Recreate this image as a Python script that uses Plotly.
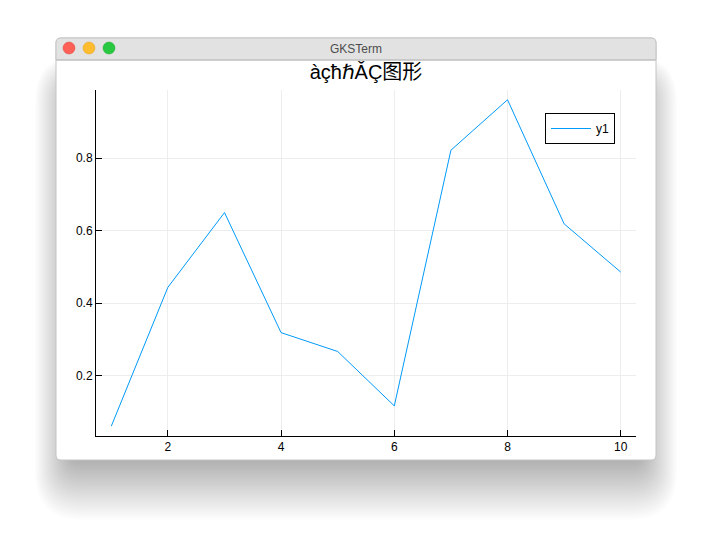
import plotly.graph_objects as go

# data
x_vals = [1, 2, 3, 4, 5, 6, 7, 8, 9, 10]
y_vals = [0.061, 0.444, 0.650, 0.319, 0.267, 0.117, 0.822, 0.961, 0.619, 0.486]
series_name = "y1"
chart_title = "àçħℏǍÇ图形"
window_title = "GKSTerm"
x_ticks = [2, 4, 6, 8, 10]
y_ticks = [0.2, 0.4, 0.6, 0.8]

# the page puts the figure 8px in from the top-left, so shrink it by that
PAGE = 8
W, H = 712 - PAGE, 534 - PAGE
L, R, T, B = 96, 636, 90, 436  # plot area in screen pixels


def px(x):
    return (x - L) / (R - L)


def py(y):
    return (B - y) / (B - T)


def rrect(x0, y0, x1, y1, r, top_only=False):
    # rounded rectangle path in paper coords (pixel inputs)
    rb = 0 if top_only else r
    pts = [
        f"M {px(x0 + r)},{py(y0)}",
        f"L {px(x1 - r)},{py(y0)}",
        f"Q {px(x1)},{py(y0)} {px(x1)},{py(y0 + r)}",
        f"L {px(x1)},{py(y1 - rb)}",
        f"Q {px(x1)},{py(y1)} {px(x1 - rb)},{py(y1)}",
        f"L {px(x0 + rb)},{py(y1)}",
        f"Q {px(x0)},{py(y1)} {px(x0)},{py(y1 - rb)}",
        f"L {px(x0)},{py(y0 + r)}",
        f"Q {px(x0)},{py(y0)} {px(x0 + r)},{py(y0)}",
        "Z",
    ]
    return " ".join(pts)


shapes = []
# soft shadow of the window
for i in range(26):
    g = 1.4 * i
    shapes.append(dict(type="path", xref="paper", yref="paper", layer="below",
                       path=rrect(70 - g, 90 - g, 642 + g, 462 + 2.3 * i, 12 + g),
                       fillcolor="rgba(0,0,0,0.011)", line=dict(width=0)))
# window body
shapes.append(dict(type="path", xref="paper", yref="paper", layer="below",
                   path=rrect(56, 38, 656, 460, 5), fillcolor="white",
                   line=dict(color="#c4c4c4", width=1)))
# title bar
shapes.append(dict(type="path", xref="paper", yref="paper", layer="below",
                   path=rrect(56, 38, 656, 60, 5, top_only=True), fillcolor="#e2e2e2",
                   line=dict(color="#c4c4c4", width=1)))
shapes.append(dict(type="line", xref="paper", yref="paper", layer="below",
                   x0=px(56), x1=px(656), y0=py(60), y1=py(60),
                   line=dict(color="#bdbdbd", width=1)))
# traffic lights
for cx, col, edge in [(69, "#fe5f57", "#e0443e"), (89, "#febc2e", "#dea123"), (109, "#28c840", "#1aab29")]:
    shapes.append(dict(type="circle", xref="paper", yref="paper", layer="below",
                       x0=px(cx - 6), x1=px(cx + 6), y0=py(48 + 6), y1=py(48 - 6),
                       fillcolor=col, line=dict(color=edge, width=0.5)))

fig = go.Figure()
fig.add_trace(go.Scatter(x=x_vals, y=y_vals, mode="lines", name=series_name,
                         line=dict(color="#009AFA", width=1)))

font_family = "Liberation Sans, Arial, DejaVu Sans, Noto Sans CJK SC"

fig.update_layout(
    width=W, height=H,
    margin=dict(l=L - PAGE, r=712 - R, t=T - PAGE, b=534 - B, pad=0),
    paper_bgcolor="white", plot_bgcolor="rgba(0,0,0,0)",
    font=dict(family=font_family, color="black", size=12),
    title=dict(text=chart_title, x=px(366), xref="paper", xanchor="center",
               y=1 - (72 - PAGE) / H, yanchor="middle",
               font=dict(size=20, color="black", family=font_family)),
    showlegend=True,
    legend=dict(x=px(545), y=py(113), xanchor="left", yanchor="top",
                bordercolor="black", borderwidth=1, bgcolor="white",
                font=dict(size=12), itemwidth=40, tracegroupgap=0),
    shapes=shapes,
    annotations=[dict(text=window_title, xref="paper", yref="paper",
                      x=px(356), y=py(49), xanchor="center", yanchor="middle",
                      showarrow=False,
                      font=dict(size=12, color="#4d4d4d", family=font_family))],
)
fig.update_xaxes(range=[0.73, 10.27], tickvals=x_ticks, ticks="inside", ticklen=6,
                 tickcolor="black", showline=True, linecolor="black", linewidth=1,
                 showgrid=True, gridcolor="#ededed", gridwidth=1, zeroline=False,
                 tickfont=dict(size=12))
fig.update_yaxes(range=[0.034, 0.988], tickvals=y_ticks, tickformat=".1f",
                 ticks="inside", ticklen=6, tickcolor="black", showline=True,
                 linecolor="black", linewidth=1, showgrid=True, gridcolor="#ededed",
                 gridwidth=1, zeroline=False, tickfont=dict(size=12))

fig.write_html("out.html")
